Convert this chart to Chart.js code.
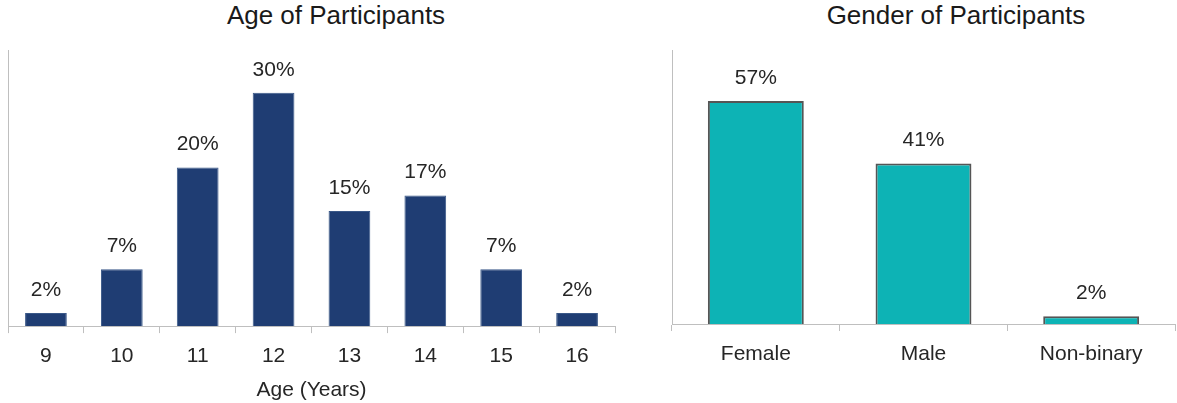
<!DOCTYPE html>
<html>
<head>
<meta charset="utf-8">
<script src="https://cdn.jsdelivr.net/npm/chart.js@4/dist/chart.umd.min.js"></script>
<style>
  html, body { margin: 0; padding: 0; background: #fff; overflow: hidden; }
  body { width: 1177px; height: 403px; position: relative; }
  .title {
    position: absolute; top: 0; width: 400px; height: 38px; line-height: 38px;
    text-align: center; font: 26px 'Liberation Sans', Arial, sans-serif; color: #1a1a1a;
  }
  canvas { position: absolute; top: 0; }
</style>
</head>
<body>
<div class="title" style="left:136px">Age of Participants</div>
<div class="title" style="left:756px">Gender of Participants</div>
<canvas id="age-chart" width="625" height="403" style="left:0"></canvas>
<canvas id="gender-chart" width="552" height="403" style="left:625px"></canvas>

<script>
// ── Data ──────────────────────────────────────────────────────────────
const ageLabels    = ['9', '10', '11', '12', '13', '14', '15', '16'];
const agePct       = [1.7, 7.3, 20.4, 30.0, 14.8, 16.8, 7.3, 1.7];
const genderLabels = ['Female', 'Male', 'Non-binary'];
const genderPct    = [57, 41, 2];

const FONT   = "'Liberation Sans', Arial, sans-serif";
const TEXT   = '#262626';
const AXIS   = '#bfbfbf';

// Draws the "NN%" label above each bar, from the bar elements themselves
const barLabels = {
  id: 'barLabels',
  afterDatasetsDraw(chart) {
    const { ctx } = chart;
    ctx.save();
    ctx.font = `21px ${FONT}`;
    ctx.fillStyle = TEXT;
    ctx.textAlign = 'center';
    ctx.textBaseline = 'middle';
    chart.data.datasets.forEach((ds, di) => {
      chart.getDatasetMeta(di).data.forEach((bar, i) => {
        ctx.fillText(Math.round(ds.data[i]) + '%', bar.x, bar.y - 23);
      });
    });
    ctx.restore();
  },
};

function makeChart(id, labels, data, opts) {
  return new Chart(document.getElementById(id), {
    type: 'bar',
    data: {
      labels,
      datasets: [{
        data,
        backgroundColor: opts.fill,
        borderColor: opts.border,
        borderWidth: opts.borderWidth,
        barPercentage: opts.barPct,
        categoryPercentage: 1,
      }],
    },
    options: {
      responsive: false,
      animation: false,
      layout: { padding: opts.padding },
      plugins: { legend: { display: false }, tooltip: { enabled: false }, title: { display: false } },
      scales: {
        x: {
          grid: { drawOnChartArea: false, color: AXIS, tickLength: 7 },
          border: { color: AXIS },
          ticks: { color: TEXT, font: { family: FONT, size: 21 }, padding: 11, maxRotation: 0 },
          title: opts.xTitle
            ? { display: true, text: opts.xTitle, color: TEXT, font: { family: FONT, size: 21 }, padding: { top: -2.5, bottom: 0 } }
            : { display: false },
        },
        y: {
          min: 0,
          max: opts.yMax,
          grid: { display: false, drawTicks: false, tickLength: 0 },
          border: { color: AXIS },
          ticks: { display: false },
        },
      },
    },
    plugins: [barLabels],
  });
}

makeChart('age-chart', ageLabels, agePct, {
  fill: '#1f3d73',
  border: '#3a5888',
  borderWidth: 1,
  barPct: 0.55,
  yMax: 35.5,
  xTitle: 'Age (Years)',
  padding: { left: 8, right: 10, top: 50, bottom: 0 },
});

makeChart('gender-chart', genderLabels, genderPct, {
  fill: '#0db3b5',
  border: '#555555',
  borderWidth: 2,
  barPct: 0.572,
  yMax: 70,
  xTitle: null,
  padding: { left: 47, right: 2, top: 50, bottom: 24.8 },
});
</script>
</body>
</html>
